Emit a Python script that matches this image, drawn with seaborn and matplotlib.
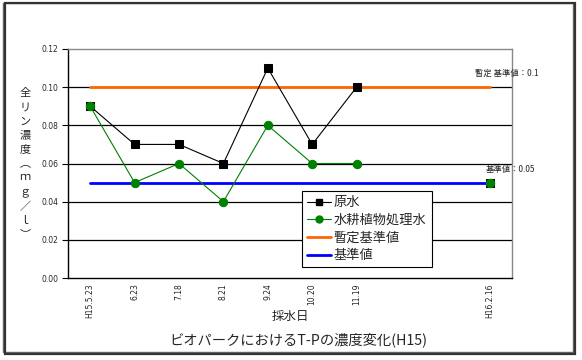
import numpy as np
import pandas as pd
import matplotlib
matplotlib.use("Agg")
import matplotlib.pyplot as plt
from matplotlib.lines import Line2D
from matplotlib.patches import Rectangle
import seaborn as sns

# data
dates = ["H15.5.23", "6.23", "7.18", "8.21", "9.24", "10.20", "11.19", "", "", "H16.2.16"]
raw_water = [0.09, 0.07, 0.07, 0.06, 0.11, 0.07, 0.10, np.nan, np.nan, 0.05]
treated_water = [0.09, 0.05, 0.06, 0.04, 0.08, 0.06, 0.06, np.nan, np.nan, 0.05]
provisional_std = 0.1
standard = 0.05

sns.set_theme(style="white")
plt.rcParams["font.family"] = ["Noto Sans CJK JP", "DejaVu Sans"]

df = pd.DataFrame({"pos": np.arange(len(dates)), "raw": raw_water, "treated": treated_water})
# split into contiguous segments so gaps stay unconnected
df["seg"] = df["raw"].isna().cumsum()
df = df.dropna()

fig = plt.figure(figsize=(5.82, 3.6), dpi=100)
ax = fig.add_axes([68 / 582, 1 - 278 / 360, 444 / 582, 229 / 360])

# outer chart frame with shadow
fig.patches.append(Rectangle((5 / 582, 6 / 360), 570 / 582, 351 / 360, transform=fig.transFigure,
                             facecolor="none", edgecolor="#333333", linewidth=1.6))
fig.patches.append(Rectangle((3 / 582, 8 / 360), 570 / 582, 349 / 360, transform=fig.transFigure,
                             facecolor="white", edgecolor="#666677", linewidth=1.0, zorder=-1))

# reference lines
ax.plot([0, len(dates) - 1], [provisional_std] * 2, color="#FF6600", linewidth=2, zorder=2)
ax.plot([0, len(dates) - 1], [standard] * 2, color="#0000FF", linewidth=2, zorder=2)

for seg, d in df.groupby("seg"):
    sns.lineplot(data=d, x="pos", y="raw", ax=ax, color="black", linewidth=0.8,
                 marker="s", markersize=6, markeredgecolor="black", zorder=3)
    sns.lineplot(data=d, x="pos", y="treated", ax=ax, color="green", linewidth=0.8,
                 marker="o", markersize=6, markeredgecolor="green", zorder=4)

ax.set_xlim(-0.5, len(dates) - 0.5)
ax.set_ylim(0, 0.12)
ax.set_yticks(np.arange(0, 0.121, 0.02))
ax.set_yticklabels([f"{v:.2f}" for v in np.arange(0, 0.121, 0.02)], fontsize=5.5,
                   family=["DejaVu Sans"])
for v in np.arange(0.02, 0.11, 0.02):
    ax.axhline(v, color="black", linewidth=0.9, zorder=1)

ax.set_xticks(np.arange(len(dates)))
ax.set_xticklabels(dates, rotation=90, fontsize=5.5, family=["DejaVu Sans"])
ax.set_xticks(np.arange(len(dates) - 1) + 0.5, minor=True)
ax.tick_params(axis="x", which="major", length=0, pad=4)
ax.tick_params(axis="x", which="minor", direction="in", length=3, color="black", width=0.8)
ax.tick_params(axis="y", direction="out", length=4, color="black", width=0.8, pad=3, left=True)

for s in ["left", "bottom"]:
    ax.spines[s].set_color("black")
    ax.spines[s].set_linewidth(1.0)
for s in ["top", "right"]:
    ax.spines[s].set_color("#888888")
    ax.spines[s].set_linewidth(1.0)

ax.set_xlabel("")
ax.set_ylabel("")
fig.text(290 / 582, 1 - 316 / 360, "採水日", ha="center", va="center", fontsize=9)
fig.text(25 / 582, 1 - 164 / 360, "全\nリ\nン\n濃\n度\n︵\nｍ\nｇ\n／\nｌ\n︶", ha="center", va="center",
         fontsize=8, linespacing=1.5)
fig.text(298 / 582, 1 - 340 / 360, "ビオパークにおけるT-Pの濃度変化(H15)", ha="center", va="center",
         fontsize=10.3)

ax.annotate("暫定 基準値：0.1", xy=(len(dates) - 1, provisional_std), xytext=(-15, 9),
            textcoords="offset pixels", fontsize=6, ha="left", va="bottom")
ax.annotate("基準値：0.05", xy=(len(dates) - 1, standard), xytext=(-4, 9),
            textcoords="offset pixels", fontsize=6, ha="left", va="bottom")

handles = [
    Line2D([], [], color="black", marker="s", markersize=5, linewidth=0.8),
    Line2D([], [], color="green", marker="o", markersize=5, linewidth=0.8),
    Line2D([], [], color="#FF6600", linewidth=2),
    Line2D([], [], color="#0000FF", linewidth=2),
]
leg = ax.legend(handles, ["原水", "水耕植物処理水", "暫定基準値", "基準値"],
                loc="upper left", bbox_to_anchor=((302 - 68) / 444, (278 - 191) / 229),
                fontsize=9.5, frameon=True, fancybox=False, edgecolor="black",
                framealpha=1, handlelength=1.8, handletextpad=0.2, borderpad=0.4,
                labelspacing=0.35, borderaxespad=0)
leg.get_frame().set_linewidth(0.8)

fig.savefig("out.png", dpi=100)
